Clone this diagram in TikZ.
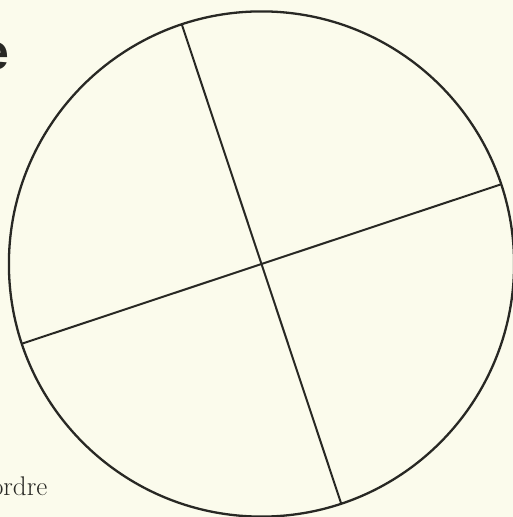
\documentclass[tikz,border=0pt]{standalone}
\usepackage{fontspec}
\newfontfamily\headfont{Liberation Sans}
\usetikzlibrary{calc}
\definecolor{PaperClr}{RGB}{251,251,236}
\definecolor{InkClr}{RGB}{40,40,36}

\begin{document}
\begin{tikzpicture}[x=1pt,y=-1pt]
\tikzset{ink/.style={line width=2pt,color=InkClr},
  rim/.style={ink,line width=2.3pt}}

\fill[PaperClr] (0,0) rectangle (513,517);
\useasboundingbox (0,0) rectangle (513,517);

\coordinate (O) at (261.5,264);
\def\rad{252.6}

\coordinate (T) at ($(O)+(-108.4:\rad)$);
\coordinate (B) at ($(O)+(71.6:\rad)$);
\coordinate (L) at ($(O)+(161.6:\rad)$);
\coordinate (R) at ($(O)+(-18.4:\rad)$);

\draw[rim] (O) circle (\rad);
\draw[ink] (T) -- (B);
\draw[ink] (L) -- (R);

% cut off text at the page edge
\node[inner sep=0pt,anchor=base east,text=InkClr] (head) at (10,69)
  {\fontsize{50}{56}\selectfont\headfont\bfseries e};
\node[inner sep=0pt,anchor=base east,text=InkClr] (word) at (47.5,495)
  {\fontsize{27}{31}\selectfont ordre};

\end{tikzpicture}
\end{document}
